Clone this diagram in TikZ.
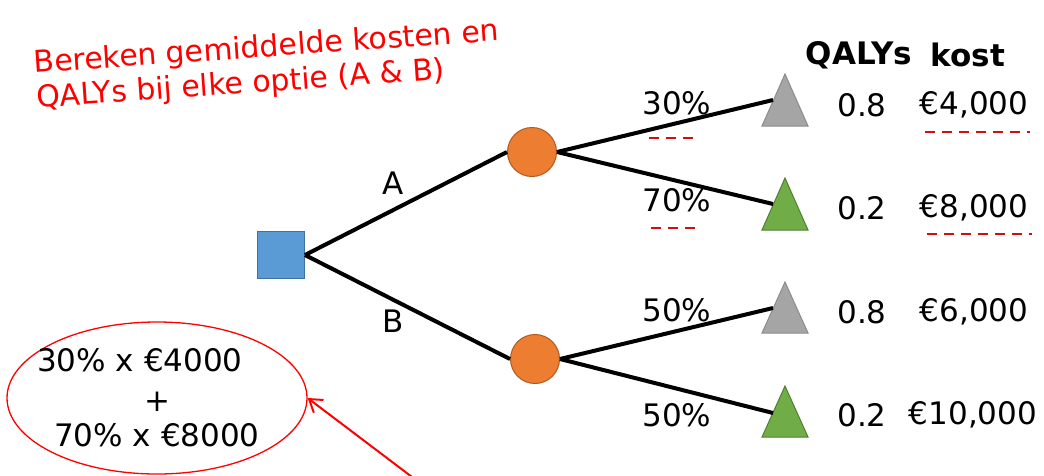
\documentclass[tikz,border=0pt]{standalone}
\usepackage{fontspec}
\setmainfont{DejaVu Sans}
\usetikzlibrary{shapes.geometric,arrows.meta}
\definecolor{sqfill}{HTML}{5B9BD5}
\definecolor{sqdraw}{HTML}{41719C}
\definecolor{orfill}{HTML}{ED7D31}
\definecolor{ordraw}{HTML}{AE5A21}
\definecolor{grfill}{HTML}{A5A5A5}
\definecolor{grdraw}{HTML}{8C8C8C}
\definecolor{gnfill}{HTML}{70AD47}
\definecolor{gndraw}{HTML}{507E32}
\definecolor{dashred}{HTML}{D01010}
\begin{document}
\begin{tikzpicture}[x=1pt,y=-1pt,
  decision/.style={rectangle,fill=sqfill,draw=sqdraw,line width=1pt,minimum size=47pt,inner sep=0pt},
  chance/.style={circle,fill=orfill,draw=ordraw,line width=1pt,minimum size=49pt,inner sep=0pt},
  branch/.style={line width=4pt,black},
  trigray/.style={fill=grfill,draw=grdraw,line width=1pt},
  trigreen/.style={fill=gnfill,draw=gndraw,line width=1pt},
  lbl/.style={font=\fontsize{31}{36}\selectfont,inner sep=0pt},
  hdr/.style={font=\fontsize{31}{36}\selectfont\bfseries,inner sep=0pt},
  mark line/.style={dashred,line width=2pt,dash pattern=on 10pt off 7pt},
  note/.style={red,font=\fontsize{30}{35}\selectfont,align=left,inner sep=0pt},
  calc/.style={ellipse,draw=red,line width=1.3pt,minimum width=300pt,minimum height=152pt,inner xsep=-30pt,inner ysep=-8pt,align=center,font=\fontsize{31}{37}\selectfont},
  pointer/.style={red,line width=2pt,-{Straight Barb[length=12pt,width=16pt,line width=2pt]}}
]
\clip (0,0) rectangle (1044,475);
\fill[white] (0,0) rectangle (1044,475);

% red instruction text
\node[note,anchor=north west,rotate=4] (instr) at (33,50) {Bereken gemiddelde kosten en\\QALYs bij elke optie (A \& B)};

% headers
\node[hdr] (hq) at (859,55) {QALYs};
\node[hdr] (hk) at (968,55) {kost};

% tree nodes
\node[decision] (d) at (281,255) {};
\node[chance] (ca) at (532,152) {};
\node[chance] (cb) at (535,359) {};

% triangles (terminal nodes)
\path[trigray]  (762,126) -- (785,74)  -- (808,126) -- cycle;
\path[trigreen] (762,230) -- (785,178) -- (808,230) -- cycle;
\path[trigray]  (762,333) -- (785,282) -- (808,333) -- cycle;
\path[trigreen] (762,437) -- (785,386) -- (808,437) -- cycle;
\coordinate (t1) at (773,100);
\coordinate (t2) at (773,204);
\coordinate (t3) at (773,308);
\coordinate (t4) at (773,413);

% branches
\draw[branch] (d.east) -- (ca.west);
\draw[branch] (d.east) -- (cb.west);
\draw[branch] (ca.east) -- (t1);
\draw[branch] (ca.east) -- (t2);
\draw[branch] (cb.east) -- (t3);
\draw[branch] (cb.east) -- (t4);

% branch labels
\node[lbl] (la) at (393,183) {A};
\node[lbl] (lb) at (393,321) {B};
\node[lbl] (p1) at (677,103) {30\%};
\node[lbl] (p2) at (677,200) {70\%};
\node[lbl] (p3) at (677,310) {50\%};
\node[lbl] (p4) at (677,415) {50\%};

% outcomes
\node[lbl] (q1) at (862,105) {0.8};
\node[lbl] (k1) at (974,105) {€4,000};
\node[lbl] (q2) at (862,208) {0.2};
\node[lbl] (k2) at (974,208) {€8,000};
\node[lbl] (q3) at (862,312) {0.8};
\node[lbl] (k3) at (974,312) {€6,000};
\node[lbl] (q4) at (862,415) {0.2};
\node[lbl] (k4) at (973,415) {€10,000};

% red dashed marks
\draw[mark line] (649,138) -- (700,138);
\draw[mark line] (651,228) -- (702,228);
\draw[mark line] (925,132) -- (1030,132);
\draw[mark line] (927,234) -- (1032,234);

% calculation ellipse and pointer
\node[calc] (ell) at (157,398) {30\% x €4000\hspace*{34pt}\\[3pt]+\\[-2pt]70\% x €8000};
\coordinate (ptr) at (416,480);
\draw[pointer] (ptr) -- (ell.east);
\end{tikzpicture}
\end{document}
